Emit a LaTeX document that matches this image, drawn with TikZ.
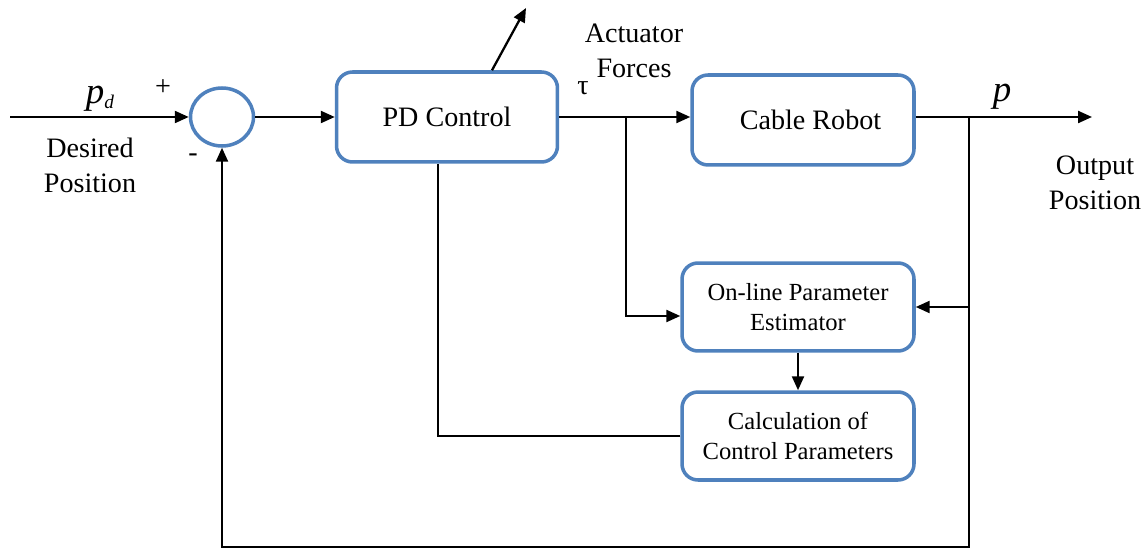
\documentclass[tikz,border=0pt]{standalone}
\usepackage{fontspec}
\setmainfont{Liberation Serif}
\usetikzlibrary{arrows.meta,shapes.geometric}
\definecolor{boxblue}{RGB}{79,129,189}
\tikzset{
    block/.style={draw=boxblue,line width=2pt,rounded corners=0.32cm,fill=white,
        minimum width=4.42cm,minimum height=1.8cm,align=center,font=\fontsize{16}{20}\selectfont},
    smallblock/.style={block,minimum width=4.64cm,minimum height=1.76cm,font=\fontsize{14}{17}\selectfont},
    sumnode/.style={draw=boxblue,line width=2pt,ellipse,minimum width=1.26cm,minimum height=1.16cm},
    arr/.style={line width=1.3pt,-{Triangle[length=0.28cm,width=0.24cm]}},
    wire/.style={line width=1.3pt},
    lbl/.style={align=center,font=\fontsize{16}{20}\selectfont}
}
\begin{document}
\begin{tikzpicture}[x=0.02cm,y=-0.02cm]
    \useasboundingbox (0,0) rectangle (1148,550);
    \node[sumnode] (sum) at (222,117) {};
    \node[block] (pd) at (447,117) {PD Control};
    \node[block,minimum width=4.44cm] (robot) at (803,120) {\hspace*{0.3cm}Cable Robot};
    \node[smallblock] (est) at (798,307) {On-line Parameter\\Estimator};
    \node[smallblock] (calc) at (798,436) {Calculation of\\Control Parameters};
    \coordinate (in) at (10,117);
    \coordinate (tau) at (626,117);
    \coordinate (pout) at (969,117);
    \coordinate (out) at (1092,117);
    \coordinate (fb) at (969,547);
    \coordinate (adapt) at (526,8);
    \node[lbl] (pdlbl) at (100,99) {\fontsize{21}{21}\selectfont\textit{p}\raisebox{-0.3ex}{\fontsize{11}{11}\selectfont\textit{d}}};
    \node[lbl] (plus) at (163,88) {+};
    \node[lbl] (minus) at (193,158) {-};
    \node[lbl] (desired) at (90,165) {Desired\\Position};
    \node[lbl] (taulbl) at (583,88) {τ};
    \node[lbl] (act) at (634,51) {Actuator\\Forces};
    \node[lbl] (plbl) at (1002,97) {\fontsize{21}{21}\selectfont\textit{p}};
    \node[lbl] (output) at (1095,183) {Output\\Position};
    \draw[arr] (in) -- (sum);
    \draw[arr] (sum) -- (pd);
    \draw[arr] (pd.east) -- (pd.east -| robot.west);
    \draw[arr] ([xshift=0.9cm]pd.north) -- (adapt);
    \draw[arr] (tau) |- ([yshift=-0.18cm]est.west);
    \draw[wire] (robot.east |- pout) -- (pout);
    \draw[arr] (pout) -- (out);
    \draw[arr] (pout) |- (est.east);
    \draw[arr] (est) -- (calc);
    \draw[wire] (calc.west) -| ([xshift=-0.18cm]pd.south);
    \draw[arr] (pout) -- (fb) -| (sum);
\end{tikzpicture}
\end{document}
